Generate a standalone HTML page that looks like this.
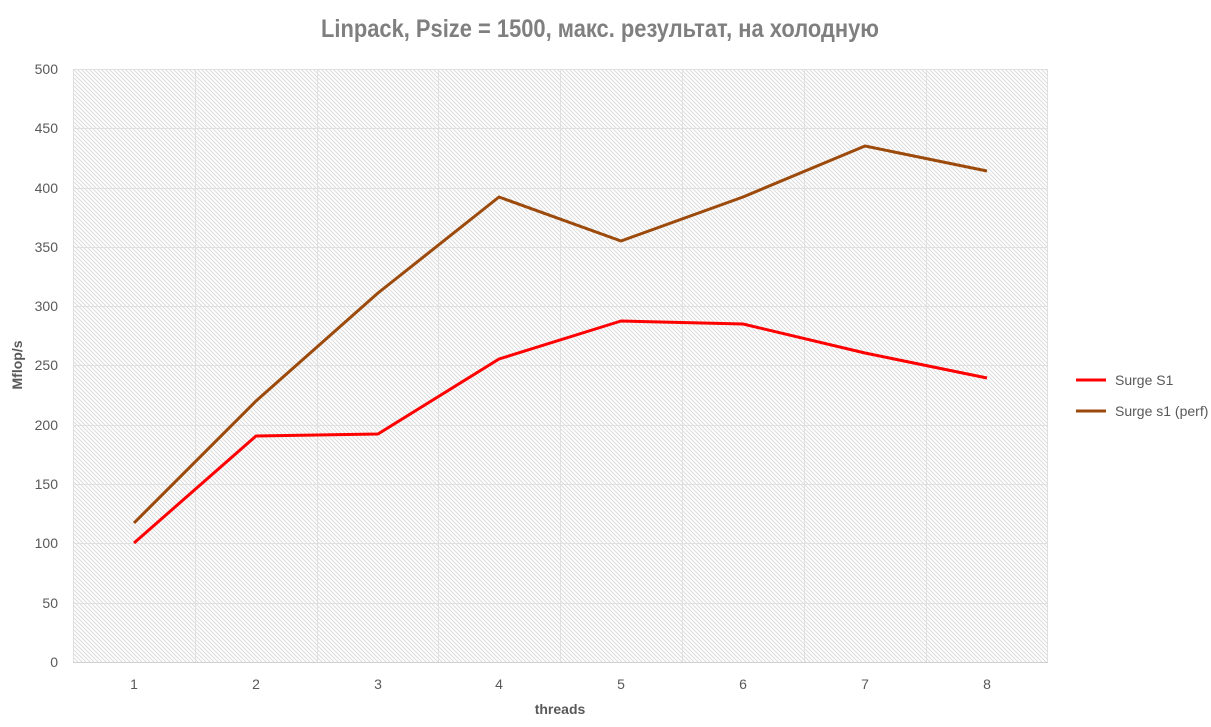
<!DOCTYPE html>
<html><head><meta charset="utf-8"><style>body{margin:0;background:#fff}svg{display:block}</style></head><body>
<svg width="1211" height="727" xmlns="http://www.w3.org/2000/svg" font-family="Liberation Sans, sans-serif">
<defs><pattern id="h" width="4" height="4" patternUnits="userSpaceOnUse"><path d="M-1,-1 L5,5 M-1,3 L1,5 M3,-1 L5,1" stroke="#dcdcdc" stroke-width="1"/></pattern></defs>
<text x="600" y="37" text-anchor="middle" font-size="25" font-weight="bold" fill="#7f7f7f" textLength="558" lengthAdjust="spacingAndGlyphs">Linpack, Psize = 1500, макс. результат, на холодную</text>
<rect x="73" y="69" width="975" height="593" fill="url(#h)"/>
<g stroke="#e0e0e0" stroke-width="1">
<line x1="73" y1="69.5" x2="1048" y2="69.5"/><line x1="73" y1="128.5" x2="1048" y2="128.5"/><line x1="73" y1="188.5" x2="1048" y2="188.5"/><line x1="73" y1="247.5" x2="1048" y2="247.5"/><line x1="73" y1="306.5" x2="1048" y2="306.5"/><line x1="73" y1="365.5" x2="1048" y2="365.5"/><line x1="73" y1="425.5" x2="1048" y2="425.5"/><line x1="73" y1="484.5" x2="1048" y2="484.5"/><line x1="73" y1="543.5" x2="1048" y2="543.5"/><line x1="73" y1="603.5" x2="1048" y2="603.5"/>
<line x1="73.5" y1="69" x2="73.5" y2="662"/><line x1="195.5" y1="69" x2="195.5" y2="662"/><line x1="317.5" y1="69" x2="317.5" y2="662"/><line x1="438.5" y1="69" x2="438.5" y2="662"/><line x1="560.5" y1="69" x2="560.5" y2="662"/><line x1="682.5" y1="69" x2="682.5" y2="662"/><line x1="804.5" y1="69" x2="804.5" y2="662"/><line x1="926.5" y1="69" x2="926.5" y2="662"/><line x1="1047.5" y1="69" x2="1047.5" y2="662"/>
</g>
<line x1="73" y1="662.5" x2="1048" y2="662.5" stroke="#d0d0d0"/>
<g font-size="14" fill="#595959" text-anchor="end">
<text x="58" y="74">500</text><text x="58" y="133">450</text><text x="58" y="193">400</text><text x="58" y="252">350</text><text x="58" y="311">300</text><text x="58" y="370">250</text><text x="58" y="430">200</text><text x="58" y="489">150</text><text x="58" y="548">100</text><text x="58" y="608">50</text><text x="58" y="667">0</text>
</g>
<g font-size="14" fill="#595959" text-anchor="middle">
<text x="134" y="689">1</text><text x="256" y="689">2</text><text x="378" y="689">3</text><text x="499" y="689">4</text><text x="621" y="689">5</text><text x="743" y="689">6</text><text x="865" y="689">7</text><text x="987" y="689">8</text>
</g>
<text x="560" y="714" text-anchor="middle" font-size="14" font-weight="bold" fill="#595959">threads</text>
<text transform="translate(22,365) rotate(-90)" text-anchor="middle" font-size="14" font-weight="bold" fill="#595959">Mflop/s</text>
<polyline fill="none" stroke="#ff0000" stroke-width="3" stroke-linejoin="round" points="134,543 256,436 378,434 499,359 621,321 743,324 865,353 987,378"/>
<polyline fill="none" stroke="#9c4a0c" stroke-width="3" stroke-linejoin="round" points="134,523 256,401 378,293 499,197 621,241 743,197 865,146 987,171"/>
<line x1="1076" y1="380" x2="1106" y2="380" stroke="#ff0000" stroke-width="3"/>
<text x="1115" y="385" font-size="14" fill="#595959">Surge S1</text>
<line x1="1076" y1="411" x2="1106" y2="411" stroke="#9c4a0c" stroke-width="3"/>
<text x="1115" y="416" font-size="14" fill="#595959">Surge s1 (perf)</text>
</svg>
</body></html>
